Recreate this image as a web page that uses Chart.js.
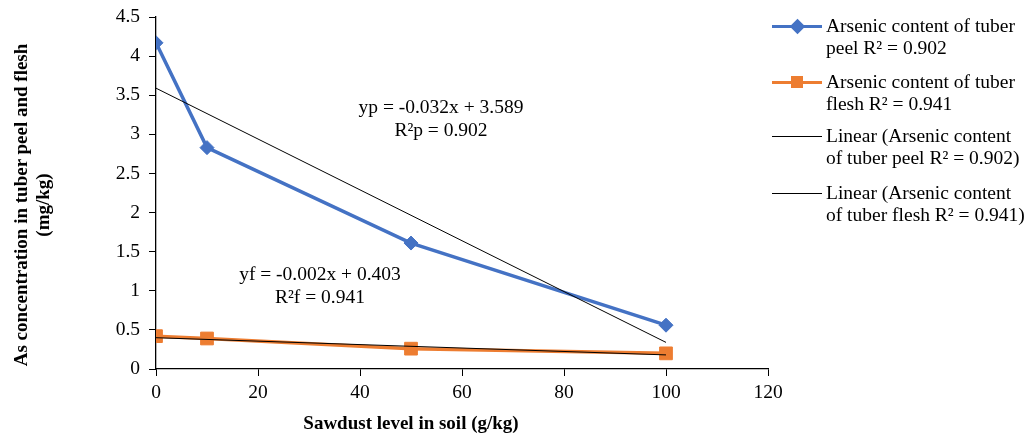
<!DOCTYPE html>
<html>
<head>
<meta charset="utf-8">
<script src="https://cdn.jsdelivr.net/npm/chart.js@4.4.1/dist/chart.umd.min.js"></script>
<style>
  body{margin:0;background:#fff;}
  #wrap{position:relative;width:1025px;height:438px;font-family:"Liberation Serif","Times New Roman",serif;color:#000;}
  #c{position:absolute;left:0;top:0;}
  .t{position:absolute;white-space:nowrap;font-size:19.5px;line-height:23px;text-align:center;}
  .ttl{position:absolute;white-space:nowrap;font-size:19px;font-weight:bold;line-height:22px;text-align:center;}
  .lg{position:absolute;left:772px;width:50px;height:0;}
  .lg .ln{position:absolute;left:0;width:50px;top:-1.5px;height:3px;}
  .lg .mk{position:absolute;left:19px;top:-6px;width:12px;height:12px;}
  .lt{position:absolute;left:826px;font-size:19.5px;line-height:22px;white-space:nowrap;}
</style>
</head>
<body>
<div id="wrap">
  <canvas id="c" width="1025" height="438"></canvas>

  <div class="t" style="left:341px;top:95px;width:200px;">yp = -0.032x + 3.589<br>R²p = 0.902</div>
  <div class="t" style="left:220px;top:262px;width:200px;">yf = -0.002x + 0.403<br>R²f = 0.941</div>

  <div class="ttl" style="left:181px;top:412px;width:460px;">Sawdust level in soil (g/kg)</div>
  <div class="ttl" style="left:-168px;top:183px;width:400px;transform:rotate(-90deg);">As concentration in tuber peel and flesh<br>(mg/kg)</div>

  <div class="lg" style="top:26px;"><div class="ln" style="background:#4472C4"></div><div class="mk" style="background:#4472C4;transform:rotate(45deg);width:11px;height:11px;left:19.5px;top:-5.5px;"></div></div>
  <div class="lt" style="top:15px;">Arsenic content of tuber<br>peel R² = 0.902</div>
  <div class="lg" style="top:82px;"><div class="ln" style="background:#ED7D31"></div><div class="mk" style="background:#ED7D31"></div></div>
  <div class="lt" style="top:71px;">Arsenic content of tuber<br>flesh R² = 0.941</div>
  <div class="lg" style="top:136px;"><div class="ln" style="background:#000;height:1px;top:-0.5px;"></div></div>
  <div class="lt" style="top:125px;">Linear (Arsenic content<br>of tuber peel R² = 0.902)</div>
  <div class="lg" style="top:193px;"><div class="ln" style="background:#000;height:1px;top:-0.5px;"></div></div>
  <div class="lt" style="top:182px;">Linear (Arsenic content<br>of tuber flesh R² = 0.941)</div>
</div>
<script>
// sawdust level (g/kg)
const sawdust=[0,10,50,100];
// arsenic content (mg/kg)
const peel=[4.17,2.83,1.61,0.56];
const flesh=[0.42,0.39,0.26,0.20];
// trend line end points
const trendX=[0,100];
const peelTrend=[3.59,0.34];
const fleshTrend=[0.40,0.18];

const xTicks=[0,20,40,60,80,100,120];

const pts=(xs,ys)=>xs.map((x,i)=>({x:x,y:ys[i]}));
const BLUE='#4472C4', ORANGE='#ED7D31';

new Chart(document.getElementById('c'),{
  type:'line',
  data:{datasets:[
    {data:pts(sawdust,peel),borderColor:BLUE,backgroundColor:BLUE,borderWidth:3.5,
      pointStyle:'rectRot',pointRadius:7,pointBorderWidth:1,order:2},
    {data:pts(sawdust,flesh),borderColor:ORANGE,backgroundColor:ORANGE,borderWidth:3.5,
      pointStyle:'rect',pointRadius:9,pointBorderWidth:1,order:2},
    {data:pts(trendX,peelTrend),borderColor:'#000',borderWidth:1,pointRadius:0,order:1},
    {data:pts(trendX,fleshTrend),borderColor:'#000',borderWidth:1,pointRadius:0,order:1}
  ]},
  options:{
    responsive:false,animation:false,
    layout:{padding:{left:0,top:17,right:257,bottom:0}},
    plugins:{legend:{display:false},tooltip:{enabled:false}},
    elements:{line:{tension:0}},
    scales:{
      x:{type:'linear',min:0,max:120,
        afterFit:s=>{s.height=69;},
        afterBuildTicks:s=>{s.ticks=xTicks.map(v=>({value:v}));},
        grid:{drawOnChartArea:false,drawTicks:true,tickLength:7,color:'#000'},
        border:{display:true,color:'#000',width:1.3},
        ticks:{color:'#000',padding:5,maxRotation:0,font:{family:'Liberation Serif',size:19.5}}},
      y:{min:0,max:4.5,
        afterFit:s=>{s.width=156;},
        grid:{drawOnChartArea:false,drawTicks:true,tickLength:7,color:'#000'},
        border:{display:true,color:'#000',width:1.3},
        ticks:{color:'#000',stepSize:0.5,padding:9,font:{family:'Liberation Serif',size:19.5,lineHeight:0.8},
          callback:v=>String(Number(v.toFixed(1)))}}
    }
  }
});
</script>
</body>
</html>
